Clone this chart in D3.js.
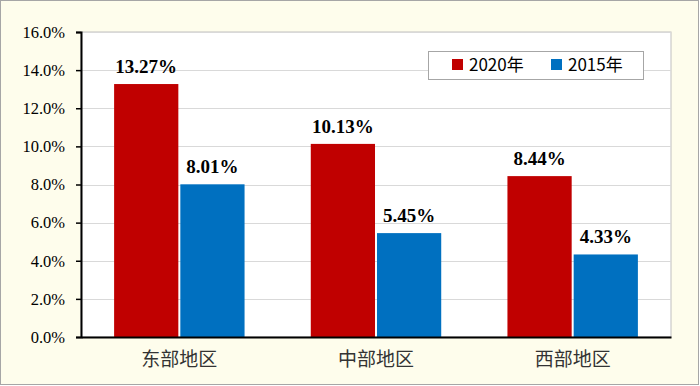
<!DOCTYPE html>
<html>
<head>
<meta charset="utf-8">
<script src="https://cdn.jsdelivr.net/npm/d3@7"></script>
<style>
  body { margin: 0; background: #fff; }
  svg { display: block; }
</style>
</head>
<body>
<div id="chart"></div>
<script>
// data
var regions = ["东部地区", "中部地区", "西部地区"];
var seriesNames = ["2020年", "2015年"];
var values2020 = [13.27, 10.13, 8.44];
var values2015 = [8.01, 5.45, 4.33];
var yTicks = [0, 2, 4, 6, 8, 10, 12, 14, 16];
var colors = ["#C00000", "#0070C0"];

var width = 700, height = 386;
var margin = { top: 32, right: 29, bottom: 49, left: 81 };

var svg = d3.select("#chart").append("svg")
  .attr("width", width)
  .attr("height", height);

// outer frame
svg.append("rect")
  .attr("x", 0.5).attr("y", 0.5)
  .attr("width", width - 2).attr("height", height - 2)
  .attr("fill", "#FEFDEC")
  .attr("stroke", "#A6A6A6");

var x = d3.scaleBand()
  .domain(regions)
  .range([margin.left, width - margin.right])
  .paddingInner(0)
  .paddingOuter(0);

var y = d3.scaleLinear()
  .domain([0, 16])
  .range([height - margin.bottom, margin.top]);

// plot area
svg.append("rect")
  .attr("x", margin.left).attr("y", margin.top)
  .attr("width", width - margin.left - margin.right)
  .attr("height", height - margin.top - margin.bottom)
  .attr("fill", "#fff")
  .attr("stroke", "#BFBFBF");

// gridlines
svg.append("g")
  .selectAll("line")
  .data(yTicks.slice(1))
  .enter()
  .append("line")
  .attr("x1", margin.left)
  .attr("x2", width - margin.right)
  .attr("y1", (d) => Math.round(y(d)) + 0.5)
  .attr("y2", (d) => Math.round(y(d)) + 0.5)
  .attr("stroke", "#D9D9D9");

var x1 = d3.scaleBand()
  .domain(seriesNames)
  .range([0, x.bandwidth()])
  .paddingOuter(0.5)
  .paddingInner(0.03);

var rows = regions.map((r, i) => ({
  region: r,
  vals: [values2020[i], values2015[i]]
}));

var groups = svg.append("g")
  .selectAll("g")
  .data(rows)
  .enter()
  .append("g")
  .attr("transform", (d) => "translate(" + x(d.region) + ",0)");

groups.selectAll("rect")
  .data((d) => d.vals.map((v, j) => ({ v: v, s: seriesNames[j], j: j })))
  .enter()
  .append("rect")
  .attr("x", (d) => x1(d.s))
  .attr("width", x1.bandwidth())
  .attr("y", (d) => y(d.v))
  .attr("height", (d) => y(0) - y(d.v))
  .attr("fill", (d) => colors[d.j]);

groups.selectAll("text")
  .data((d) => d.vals.map((v, j) => ({ v: v, s: seriesNames[j] })))
  .enter()
  .append("text")
  .attr("x", (d) => x1(d.s) + x1.bandwidth() / 2)
  .attr("y", (d) => y(d.v) - 11)
  .attr("text-anchor", "middle")
  .attr("font-family", "'Liberation Serif', 'Times New Roman', serif")
  .attr("font-weight", "bold")
  .attr("font-size", "19px")
  .attr("fill", "#000")
  .text((d) => d.v.toFixed(2) + "%");

// y axis
var yAxis = svg.append("g")
  .attr("transform", "translate(" + margin.left + ",0)")
  .call(d3.axisLeft(y)
    .tickValues(yTicks)
    .tickSize(5)
    .tickPadding(11)
    .tickFormat((d) => d.toFixed(1) + "%"));
yAxis.select(".domain").attr("stroke", "#000").attr("stroke-width", 2);
yAxis.selectAll(".tick line").attr("stroke", "#000").attr("stroke-width", 1.5);
yAxis.selectAll("text")
  .attr("font-family", "'Liberation Serif', 'Times New Roman', serif")
  .attr("font-size", "16.5px")
  .attr("fill", "#000");

// x axis
var xAxis = svg.append("g")
  .attr("transform", "translate(0," + y(0) + ")")
  .call(d3.axisBottom(x).tickSize(0).tickPadding(16));
xAxis.select(".domain").attr("stroke", "#000").attr("stroke-width", 2);
xAxis.selectAll("text")
  .attr("font-family", "'Noto Sans CJK SC', sans-serif")
  .attr("font-size", "19px")
  .attr("fill", "#333");

// legend
var legend = svg.append("g").attr("transform", "translate(428,51)");
legend.append("rect")
  .attr("x", 0.5).attr("y", 0.5)
  .attr("width", 215).attr("height", 28)
  .attr("fill", "#fff")
  .attr("stroke", "#A6A6A6");
var legX = [24, 123];
seriesNames.forEach((name, i) => {
  legend.append("rect")
    .attr("x", legX[i]).attr("y", 8)
    .attr("width", 11).attr("height", 11)
    .attr("fill", colors[i]);
  legend.append("text")
    .attr("x", legX[i] + 17)
    .attr("y", 20)
    .attr("font-family", "'Noto Sans CJK SC', sans-serif")
    .attr("font-size", "17px")
    .attr("fill", "#000")
    .text(name);
});
</script>
</body>
</html>
